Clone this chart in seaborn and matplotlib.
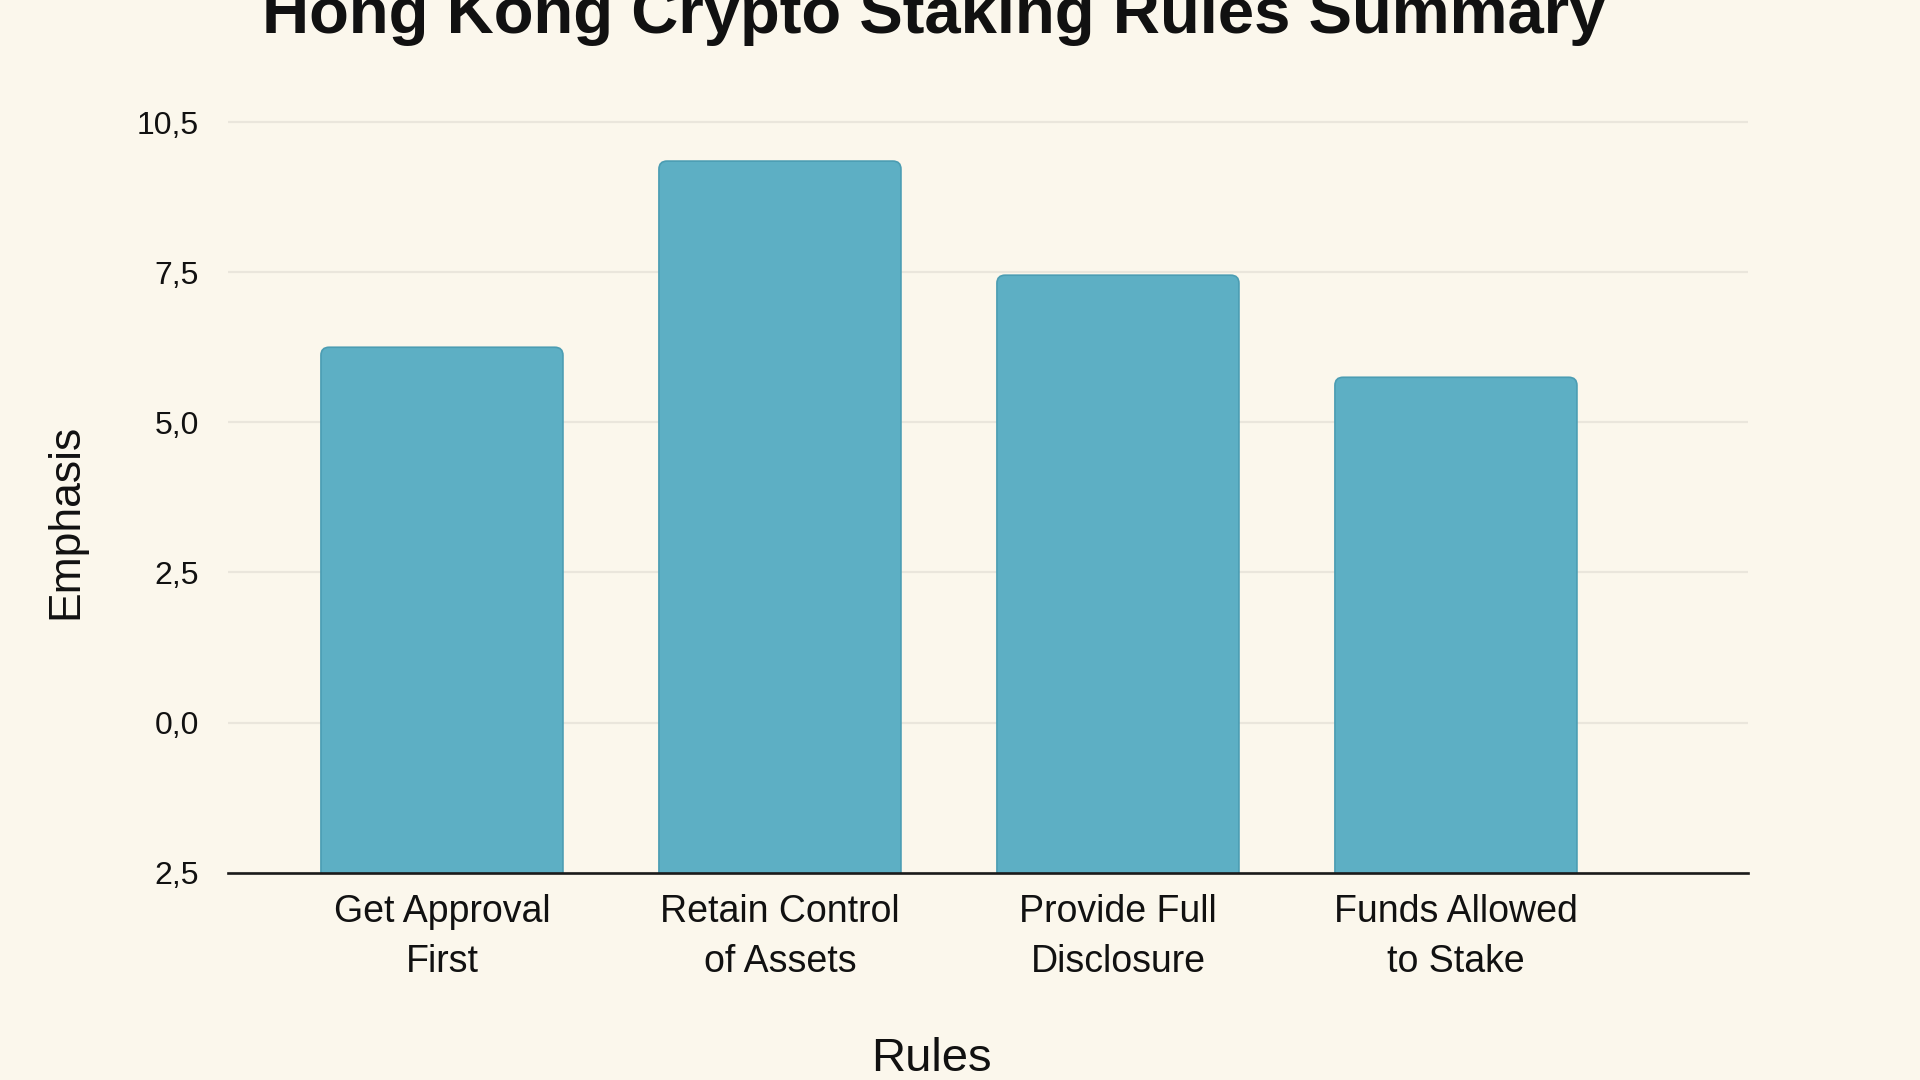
import pandas as pd
import matplotlib
matplotlib.use('Agg')
import matplotlib.pyplot as plt
from matplotlib.patches import FancyBboxPatch
import seaborn as sns

# chart values
rules = ['Get Approval\nFirst', 'Retain Control\nof Assets',
         'Provide Full\nDisclosure', 'Funds Allowed\nto Stake']
emphasis = [6.25, 9.35, 7.45, 5.75]
y_ticks = [-2.5, 0.0, 2.5, 5.0, 7.5, 10.0]
y_tick_labels = ['2,5', '0,0', '2,5', '5,0', '7,5', '10,5']

BG = '#FBF7EC'
BAR = '#5DAFC4'
EDGE = '#4B9DB3'
GRID = '#EAE6DC'


def plot_rules(data):
    fig, ax = plt.subplots(figsize=(19.2, 10.8), dpi=100)
    fig.patch.set_facecolor(BG)
    ax.set_facecolor(BG)
    fig.subplots_adjust(left=0.11875, right=0.9104, bottom=0.1919, top=0.9148)

    sns.barplot(x='Rules', y='Emphasis', data=data, color=BAR, width=0.716,
                saturation=1, ax=ax)

    ax.set_xlim(-0.633, 3.864)
    ax.set_ylim(-2.5, 10.5)
    base = y_ticks[0]

    # swap the plain bars for rounded ones that start at the bottom axis
    bars = list(ax.patches)
    for p in bars:
        x0, w, top = p.get_x(), p.get_width(), p.get_height()
        p.remove()
        rb = FancyBboxPatch((x0, base - 0.3), w, top - base + 0.3,
                            boxstyle='round,pad=0,rounding_size=0.024',
                            mutation_aspect=5.6, facecolor=BAR,
                            edgecolor=EDGE, linewidth=1.2, zorder=2)
        ax.add_patch(rb)
        rb.set_clip_path(ax.patch)

    ax.set_yticks(y_ticks)
    ax.set_yticklabels(y_tick_labels)
    ax.tick_params(axis='y', length=0, pad=21, labelsize=23)
    ax.tick_params(axis='x', length=0, pad=15, labelsize=27)
    for lbl in ax.get_xticklabels():
        lbl.set_linespacing(1.5)
    ax.yaxis.grid(True, color=GRID, linewidth=1.6)
    ax.set_axisbelow(True)

    for side in ['top', 'right', 'left']:
        ax.spines[side].set_visible(False)
    ax.spines['bottom'].set_color('#1a1a1a')
    ax.spines['bottom'].set_linewidth(1.9)
    ax.spines['bottom'].set_zorder(3)

    ax.set_ylabel('Emphasis', fontsize=32)
    ax.yaxis.set_label_coords(-0.093, 0.45)
    ax.set_xlabel('Rules', fontsize=34)
    ax.xaxis.set_label_coords(0.463, -0.211)

    ax.set_title('Hong Kong Crypto Staking Rules Summary', fontsize=47,
                 fontweight='bold', x=0.464, y=1.075, pad=0)

    fig.savefig('out.png', dpi=100, facecolor=BG)


def main():
    sns.set_style('white')
    plt.rcParams['font.family'] = ['Liberation Sans', 'DejaVu Sans']
    plt.rcParams['text.color'] = '#111111'
    plt.rcParams['xtick.color'] = '#111111'
    plt.rcParams['ytick.color'] = '#111111'
    plt.rcParams['axes.labelcolor'] = '#111111'

    data = pd.DataFrame({'Rules': rules, 'Emphasis': emphasis})
    plot_rules(data)


if __name__ == '__main__':
    main()
